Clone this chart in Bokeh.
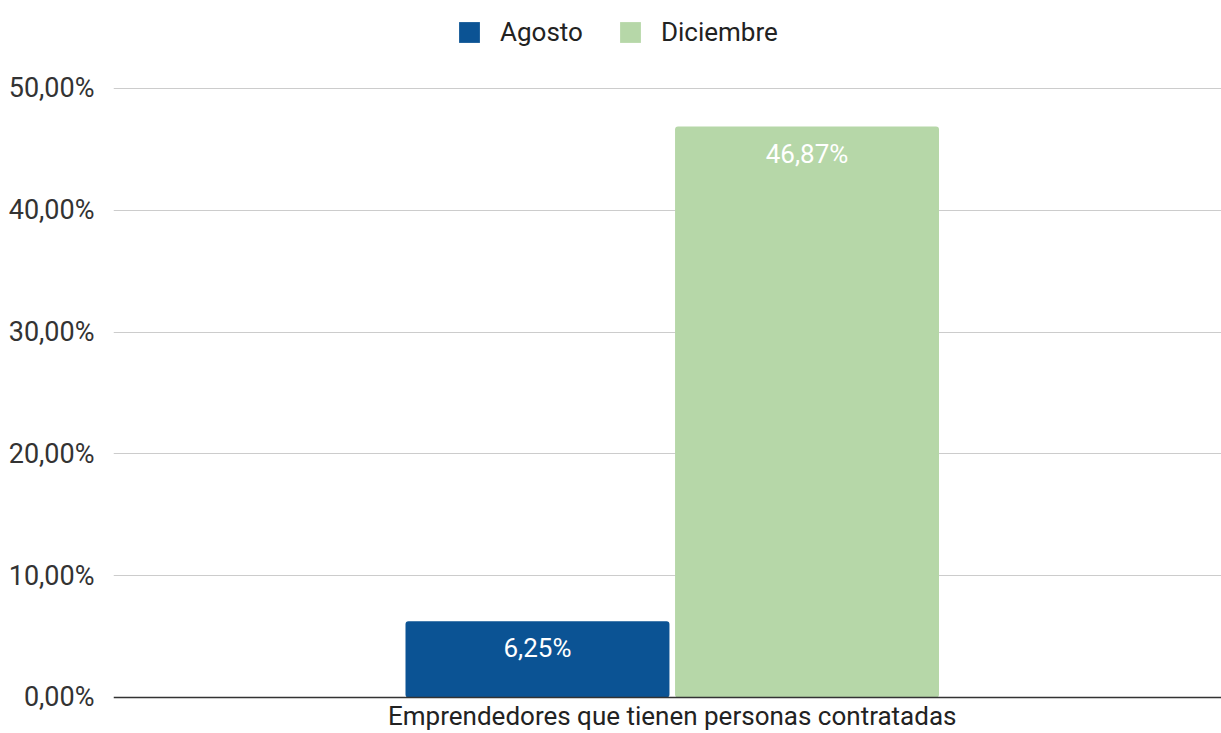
from bokeh.plotting import figure
from bokeh.models import (Legend, LegendItem, FixedTicker, Range1d, ColumnDataSource, Label, Span)
from bokeh.core.properties import value
from bokeh.embed import file_html
from bokeh.resources import INLINE

# ---- data ----
categories = ["Emprendedores que tienen personas contratadas"]
series_names = ["Agosto", "Diciembre"]
agosto = [6.25]
diciembre = [46.87]
y_ticks = [0, 10, 20, 30, 40, 50]
y_tick_labels = ["0,00%", "10,00%", "20,00%", "30,00%", "40,00%", "50,00%"]
colors = ["#0b5394", "#b6d7a8"]

FONT = "Roboto"

# y range extended beyond 0..50 so the legend (top) and category label (bottom)
# sit inside the frame and are not clipped
p = figure(width=1221, height=733, output_backend="svg", toolbar_location=None,
           x_range=Range1d(-0.5, 0.4915), y_range=Range1d(-2.956, 57.225),
           min_border_left=113, min_border_right=0, min_border_top=0,
           min_border_bottom=0)
p.outline_line_color = None
p.background_fill_color = "white"
p.xaxis.visible = False

xs = list(range(len(categories)))
bar_w = 0.2362
offsets = [-0.1206, 0.1206]
renderers = []
for name, vals, off, col in zip(series_names, [agosto, diciembre], offsets, colors):
    src = ColumnDataSource(dict(x=[x + off for x in xs], top=vals,
                                lab=[("%.2f" % v).replace(".", ",") + "%" for v in vals]))
    r = p.vbar(x="x", top="top", width=bar_w, source=src, fill_color=col,
               line_color=None, border_radius=3)
    renderers.append(r)
    p.text(x="x", y="top", text="lab", source=src, text_align="center",
           text_baseline="middle", y_offset=27, text_color="white",
           text_font=value(FONT), text_font_size="26px")

# y axis
p.yaxis.ticker = FixedTicker(ticks=y_ticks)
p.yaxis.major_label_overrides = {t: l for t, l in zip(y_ticks, y_tick_labels)}
p.yaxis.axis_line_color = None
p.yaxis.major_tick_line_color = None
p.yaxis.minor_tick_line_color = None
p.yaxis.major_label_standoff = 13
p.yaxis.major_label_text_font = FONT
p.yaxis.major_label_text_font_size = "27px"
p.yaxis.major_label_text_color = "#333333"

p.xgrid.grid_line_color = None
p.ygrid.ticker = FixedTicker(ticks=y_ticks[1:])
p.ygrid.grid_line_color = "#cccccc"
p.ygrid.grid_line_width = 1

# baseline (category axis line) at 0
p.add_layout(Span(location=0, dimension="width", line_color="#333333", line_width=1.5))

# category label under the baseline
for x, c in zip(xs, categories):
    p.add_layout(Label(x=x, y=0, text=c, text_align="center", text_baseline="top",
                       y_offset=-4, text_font=FONT, text_font_size="26px",
                       text_color="#222222"))

legend = Legend(items=[LegendItem(label=n, renderers=[r]) for n, r in zip(series_names, renderers)],
                orientation="horizontal", location=(343, 686),
                border_line_alpha=0, background_fill_alpha=0,
                glyph_width=26, glyph_height=26, label_text_font=FONT,
                label_text_font_size="26px", label_text_color="#222222",
                spacing=34, label_standoff=18, padding=0, margin=0)
p.add_layout(legend, "center")

open("out.html", "w").write(file_html(p, INLINE))
